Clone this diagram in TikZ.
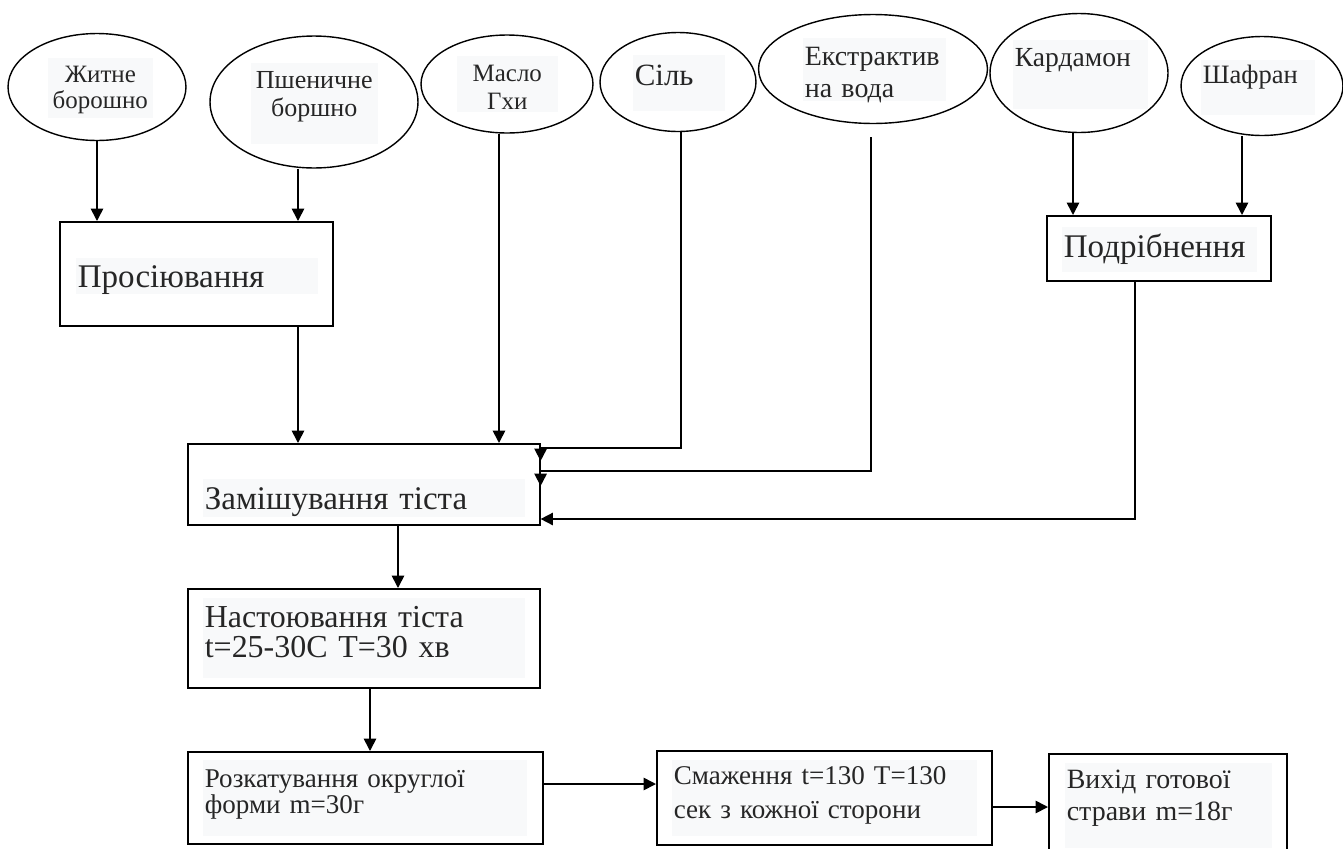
\documentclass[tikz,border=0pt]{standalone}
\usepackage{fontspec}
\setmainfont{Liberation Serif}
\usetikzlibrary{shapes.geometric,arrows.meta}
\definecolor{textbg}{HTML}{F8F9FA}
\definecolor{ink}{HTML}{262626}

\begin{document}
\begin{tikzpicture}[x=0.02cm, y=-0.02cm, line width=0.95pt,
    ingr node/.style={ellipse,draw,inner sep=0pt,line width=0.8pt},
    proc node/.style={rectangle,draw,anchor=north west,inner sep=0pt},
    txt node/.style={rectangle,fill=textbg,text=ink,anchor=north west,
        inner xsep=0.04cm,inner ysep=0pt,align=left},
    arr/.style={-{Triangle[length=7pt,width=7pt]}} ]
    \useasboundingbox (0,0) rectangle (1343,849);
    % ingredients
    \node at (97,87) [ingr node,minimum width=3.56cm,minimum height=2.14cm] (zh) {};
    \node at (314,102) [ingr node,minimum width=4.16cm,minimum height=2.64cm] (psh) {};
    \node at (507,84) [ingr node,minimum width=3.44cm,minimum height=1.96cm] (mas) {};
    \node at (678,82) [ingr node,minimum width=3.12cm,minimum height=1.98cm] (sil) {};
    \node at (873,69) [ingr node,minimum width=4.58cm,minimum height=2.18cm] (ek) {};
    \node at (1079,73) [ingr node,minimum width=3.56cm,minimum height=2.38cm] (kard) {};
    \node at (1262,86) [ingr node,minimum width=3.24cm,minimum height=1.98cm] (shaf) {};
    \node at (47,57) [txt node,align=center,text width=2.02cm,text height=.50cm,text depth=.70cm,
        font=\fontsize{14.2}{14.8}\selectfont] (zhT) {Житне\\борошно};
    \node at (250,62) [txt node,align=center,text width=2.46cm,text height=.52cm,text depth=1.10cm,
        font=\fontsize{14.8}{15.9}\selectfont] (pshT) {Пшеничне\\боршно};
    \node at (456,55) [txt node,align=center,text width=1.94cm,text height=.52cm,text depth=.60cm,
        font=\fontsize{14.2}{15.9}\selectfont] (masT) {Масло\\Гхи};
    \node at (632,54) [txt node,text width=1.76cm,text height=.62cm,text depth=.50cm,
        font=\fontsize{17.6}{20}\selectfont] (silT) {Сіль};
    \node at (802,37) [txt node,text width=2.78cm,text height=.56cm,text depth=.70cm,
        font=\fontsize{15.9}{18.2}\selectfont] (ekT) {Екстрактив\\на вода};
    \node at (1012,39) [txt node,text width=2.62cm,text height=.54cm,text depth=.84cm,
        font=\fontsize{15.7}{18}\selectfont] (kardT) {Кардамон};
    \node at (1200,59) [txt node,text width=2.20cm,text height=.48cm,text depth=.62cm,
        font=\fontsize{15.1}{17}\selectfont] (shafT) {Шафран};
    % process steps
    \node at (59,221) [proc node,minimum width=5.46cm,minimum height=2.08cm] (sift) {};
    \node at (1046,215) [proc node,minimum width=4.48cm,minimum height=1.30cm] (chop) {};
    \node at (187,443) [proc node,minimum width=7.04cm,minimum height=1.62cm] (mix) {};
    \node at (187,588) [proc node,minimum width=7.04cm,minimum height=1.98cm] (rest) {};
    \node at (187,751) [proc node,minimum width=7.10cm,minimum height=1.84cm] (roll) {};
    \node at (656,750) [proc node,minimum width=6.70cm,minimum height=1.88cm] (fry) {};
    \node at (1048,753) [proc node,minimum width=4.76cm,minimum height=2.40cm] (out) {};
    \node at (75,257) [txt node,text width=4.76cm,text height=.60cm,text depth=.12cm,
        font=\fontsize{18.8}{21}\selectfont] (siftT) {Просіювання};
    \node at (1061,226) [txt node,text width=3.82cm,text height=.62cm,text depth=.28cm,
        font=\fontsize{18.8}{21}\selectfont] (chopT) {Подрібнення};
    \node at (202,478) [txt node,text width=6.36cm,text height=.62cm,text depth=.14cm,
        font=\fontsize{18.8}{21}\selectfont] (mixT) {Замішування тіста};
    \node at (202,597) [txt node,text width=6.36cm,text height=.60cm,text depth=1.00cm,
        font=\fontsize{18.2}{17.1}\selectfont] (restT) {Настоювання тіста\\t=25-30C T=30 хв};
    \node at (202,759) [txt node,text width=6.40cm,text height=.56cm,text depth=.96cm,
        font=\fontsize{15.4}{14.8}\selectfont] (rollT) {Розкатування округлої\\форми m=30г};
    \node at (671,759) [txt node,text width=6.02cm,text height=.50cm,text depth=1.02cm,
        font=\fontsize{15.4}{19.3}\selectfont] (fryT) {Смаження t=130 T=130\\сек з кожної сторони};
    \node at (1064,762) [txt node,text width=4.06cm,text height=.52cm,text depth=1.18cm,
        font=\fontsize{15.9}{18.2}\selectfont] (outT) {Вихід готової\\страви m=18г};
    % connectors
    \draw [arr] (zh.south) -- (zh.south |- sift.north);
    \draw [arr] (298,0 |- psh.south) -- (298,0 |- sift.north);
    \draw [arr] (298,0 |- sift.south) -- (298,0 |- mix.north);
    \draw [arr] (499,0 |- mas.south) -- (499,0 |- mix.north);
    \draw [arr] (681,0 |- sil.south) |- (mix.east |- 0,448) -- (mix.east |- 0,461);
    \draw [arr] (871,0 |- ek.south) ++(0,13) |- (mix.east |- 0,471) -- (mix.east |- 0,486);
    \draw [arr] (1135,0 |- chop.south) |- (mix.east |- 0,519);
    \draw [arr] (1073,0 |- kard.south) -- (1073,0 |- chop.north);
    \draw [arr] (1242,0 |- shaf.south) -- (1242,0 |- chop.north);
    \draw [arr] (398,0 |- mix.south) -- (398,0 |- rest.north);
    \draw [arr] (370,0 |- rest.south) -- (370,0 |- roll.north);
    \draw [arr] (roll.east |- 0,784) -- (fry.west |- 0,784);
    \draw [arr] (fry.east |- 0,807) -- (out.west |- 0,807);
\end{tikzpicture}
\end{document}
